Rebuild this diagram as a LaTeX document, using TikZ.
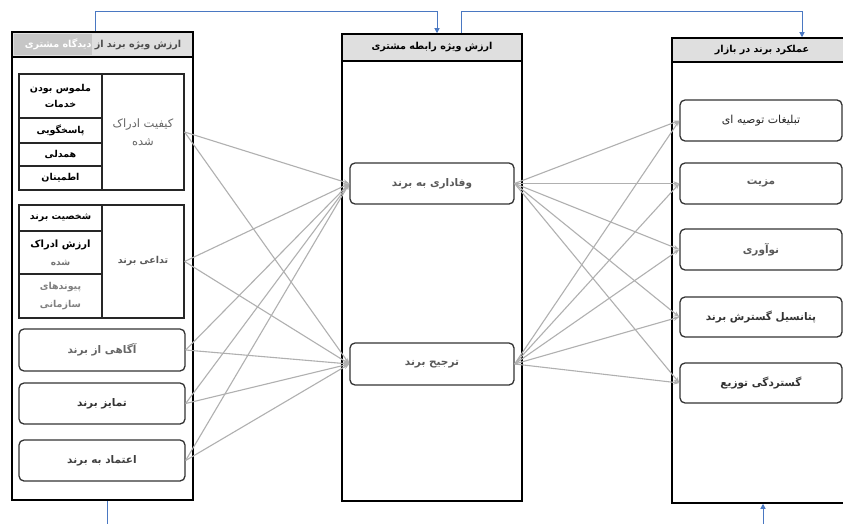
\documentclass[tikz,border=0pt]{standalone}
\usepackage{fontspec}
\TeXXeTstate=1
\newfontfamily\fa[Script=Arabic]{DejaVu Sans}
\usetikzlibrary{arrows.meta}
\definecolor{myblue}{HTML}{4A78C2}
\newcommand\fatx[1]{\beginR #1\endR}
\begin{document}
\begin{tikzpicture}[x=1pt,y=-1pt,
  every node/.style={inner sep=0pt, font=\fa\fontsize{11}{16}\selectfont, align=center},
  container/.style={draw=black, line width=1.5pt, fill=white},
  header/.style={draw=black, line width=1.5pt, fill=gray!25, font=\fa\bfseries\fontsize{9.6}{12}\selectfont},
  rbox/.style={draw=black!80, line width=1.3pt, rounded corners=5pt, fill=white},
  bt/.style={font=\fa\bfseries\fontsize{10.5}{12}\selectfont},
  st/.style={font=\fa\bfseries\fontsize{9.5}{16}\selectfont},
  sqbox/.style={draw=black!85, line width=1.2pt},
  grp/.style={draw=black!85, line width=1.5pt},
  link/.style={draw=gray!62, line width=1.1pt, -{Stealth[length=6pt,width=4.5pt]}},
  bluel/.style={draw=myblue, line width=1pt},
  bluea/.style={draw=myblue, line width=1pt, -{Triangle[length=5pt,width=5pt]}}]
\path[use as bounding box, clip] (0,0) rectangle (843,524);
\fill[white] (0,0) rectangle (843,524);

% ---------- left container ----------
\node[container, minimum width=181pt, minimum height=468pt] (lc) at (102.5,266) {};
\node[header, minimum width=181pt, minimum height=25pt] (lh) at (102.5,44.5) {};
\fill[gray!45] (14,34) rectangle (92,55);
\node[font=\fa\bfseries\fontsize{9.6}{12}\selectfont] (lht) at (103,44.5) {\fatx{ارزش ویژه برند از {\color{black!70}دیدگاه مشتری}}};

% perceived quality group
\node[grp, minimum width=165pt, minimum height=116pt] (pqg) at (101.5,132) {};
\node[sqbox, st, minimum width=83pt, minimum height=44pt] (pq1) at (60.5,96) {\fatx{ملموس بودن}\\\fatx{خدمات}};
\node[sqbox, st, minimum width=83pt, minimum height=25pt] (pq2) at (60.5,130.5) {\fatx{پاسخگویی}};
\node[sqbox, st, minimum width=83pt, minimum height=23pt] (pq3) at (60.5,154.5) {\fatx{همدلی}};
\node[sqbox, st, minimum width=83pt, minimum height=24pt] (pq4) at (60.5,178) {\fatx{اطمینان}};
\node[sqbox, minimum width=82pt, minimum height=116pt, text=black!60, font=\fa\fontsize{11.5}{18}\selectfont] (pq) at (143,132) {\fatx{کیفیت ادراک}\\\fatx{شده}};

% brand image group
\node[grp, minimum width=165pt, minimum height=113pt] (big) at (101.5,261.5) {};
\node[sqbox, st, minimum width=83pt, minimum height=26pt] (bi1) at (60.5,218) {\fatx{شخصیت برند}};
\node[sqbox, minimum width=83pt, minimum height=43pt, font=\fa\bfseries\fontsize{10}{18}\selectfont] (bi2) at (60.5,252.5) {\fatx{ارزش ادراک}\\{\color{black!55}\fontsize{9}{18}\selectfont\fatx{شده}}};
\node[sqbox, minimum width=83pt, minimum height=44pt, text=black!50, font=\fa\bfseries\fontsize{9.5}{18}\selectfont] (bi3) at (60.5,296) {\fatx{پیوندهای}\\\fatx{سازمانی}};
\node[sqbox, minimum width=82pt, minimum height=113pt, text=black!65, font=\fa\bfseries\fontsize{9.5}{12}\selectfont] (bi) at (143,261.5) {\fatx{تداعی برند}};

% rounded boxes
\node[rbox, bt, minimum width=166pt, minimum height=42pt, text=black!60] (aw) at (102,350) {\fatx{آگاهی از برند}};
\node[rbox, bt, minimum width=166pt, minimum height=41pt, text=black!80] (di) at (102,403.5) {\fatx{تمایز برند}};
\node[rbox, bt, minimum width=166pt, minimum height=41pt, text=black!75] (tr) at (102,460.5) {\fatx{اعتماد به برند}};

% ---------- middle container ----------
\node[container, minimum width=180pt, minimum height=467pt] (mc) at (432,267.5) {};
\node[header, minimum width=180pt, minimum height=27pt] (mh) at (432,47.5) {\fatx{ارزش ویژه رابطه مشتری}};
\node[rbox, bt, minimum width=164pt, minimum height=41pt, text=black!65] (lo) at (432,183.5) {\fatx{وفاداری به برند}};
\node[rbox, bt, minimum width=164pt, minimum height=42pt, text=black!65] (pr) at (432,364) {\fatx{ترجیح برند}};

% ---------- right container ----------
\node[container, minimum width=180pt, minimum height=465pt] (rc) at (762,270.5) {};
\node[header, minimum width=180pt, minimum height=24pt] (rh) at (762,50) {\fatx{عملکرد برند در بازار}};
\node[rbox, minimum width=162pt, minimum height=41pt, text=black!85] (r1) at (761,120.5) {\fatx{تبلیغات توصیه ای}};
\node[rbox, bt, minimum width=162pt, minimum height=41pt, text=black!65] (r2) at (761,183.5) {\fatx{مزیت}};
\node[rbox, bt, minimum width=162pt, minimum height=41pt, text=black!65] (r3) at (761,249.5) {\fatx{نوآوری}};
\node[rbox, bt, minimum width=162pt, minimum height=40pt, text=black!80] (r4) at (761,317) {\fatx{پتانسیل گسترش برند}};
\node[rbox, bt, minimum width=162pt, minimum height=40pt, text=black!80] (r5) at (761,383) {\fatx{گستردگی توزیع}};

% ---------- gray links ----------
\foreach \s in {pq,bi,aw,di,tr}
  \foreach \t in {lo,pr}
    \draw[link] (\s.east) -- (\t.west);
\foreach \s in {lo,pr}
  \foreach \t in {r1,r2,r3,r4,r5}
    \draw[link] (\s.east) -- (\t.west);

% ---------- blue connectors ----------
\coordinate (t1) at (95,12);
\coordinate (t2) at (437,12);
\coordinate (t3) at (461,12);
\coordinate (t4) at (802,12);
\coordinate (b1) at (107,524);
\coordinate (b2) at (763,524);
\draw[bluea] (lh.north -| t1) -- (t1) -- (t2) -- (mh.north -| t2);
\draw[bluea] (mh.north -| t3) -- (t3) -- (t4) -- (rh.north -| t4);
\draw[bluel] (lc.south -| b1) -- (b1);
\draw[bluea] (b2) -- (rc.south -| b2);
\end{tikzpicture}
\end{document}
